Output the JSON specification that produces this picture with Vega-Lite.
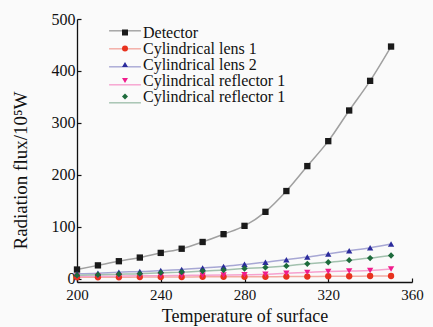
{
  "$schema": "https://vega.github.io/schema/vega-lite/v6.json",
  "width": 335,
  "height": 263,
  "autosize": {"type": "none"},
  "padding": {"left": 77, "top": 19, "right": 21, "bottom": 45},
  "background": "#fafafa",
  "config": {
    "view": {"stroke": null},
    "font": "Liberation Serif, serif",
    "axis": {"grid": false, "domainColor": "#111", "domainWidth": 1.3, "tickColor": "#111", "tickWidth": 1.2, "labelColor": "#111", "titleColor": "#111", "labelFont": "Liberation Serif, serif", "titleFont": "Liberation Serif, serif", "titleFontWeight": "normal", "labelFlush": false}
  },
  "data": {
    "values": [
      {"t":200,"series":"Detector","v":18},{"t":210,"series":"Detector","v":26},{"t":220,"series":"Detector","v":34},{"t":230,"series":"Detector","v":41},{"t":240,"series":"Detector","v":50},{"t":250,"series":"Detector","v":58},{"t":260,"series":"Detector","v":71},{"t":270,"series":"Detector","v":86},{"t":280,"series":"Detector","v":102},{"t":290,"series":"Detector","v":129},{"t":300,"series":"Detector","v":169},{"t":310,"series":"Detector","v":217},{"t":320,"series":"Detector","v":265},{"t":330,"series":"Detector","v":324},{"t":340,"series":"Detector","v":381},{"t":350,"series":"Detector","v":447},
      {"t":200,"series":"Cylindrical lens 1","v":3},{"t":210,"series":"Cylindrical lens 1","v":3},{"t":220,"series":"Cylindrical lens 1","v":3},{"t":230,"series":"Cylindrical lens 1","v":3.5},{"t":240,"series":"Cylindrical lens 1","v":3.5},{"t":250,"series":"Cylindrical lens 1","v":3.5},{"t":260,"series":"Cylindrical lens 1","v":4},{"t":270,"series":"Cylindrical lens 1","v":4},{"t":280,"series":"Cylindrical lens 1","v":4},{"t":290,"series":"Cylindrical lens 1","v":4},{"t":300,"series":"Cylindrical lens 1","v":4.5},{"t":310,"series":"Cylindrical lens 1","v":4.5},{"t":320,"series":"Cylindrical lens 1","v":5},{"t":330,"series":"Cylindrical lens 1","v":5},{"t":340,"series":"Cylindrical lens 1","v":5.5},{"t":350,"series":"Cylindrical lens 1","v":5.5},
      {"t":200,"series":"Cylindrical lens 2","v":10},{"t":210,"series":"Cylindrical lens 2","v":11},{"t":220,"series":"Cylindrical lens 2","v":13},{"t":230,"series":"Cylindrical lens 2","v":14},{"t":240,"series":"Cylindrical lens 2","v":16},{"t":250,"series":"Cylindrical lens 2","v":18},{"t":260,"series":"Cylindrical lens 2","v":21},{"t":270,"series":"Cylindrical lens 2","v":24},{"t":280,"series":"Cylindrical lens 2","v":28},{"t":290,"series":"Cylindrical lens 2","v":32},{"t":300,"series":"Cylindrical lens 2","v":37},{"t":310,"series":"Cylindrical lens 2","v":42},{"t":320,"series":"Cylindrical lens 2","v":48},{"t":330,"series":"Cylindrical lens 2","v":54},{"t":340,"series":"Cylindrical lens 2","v":60},{"t":350,"series":"Cylindrical lens 2","v":67},
      {"t":200,"series":"Cylindrical reflector 1a","v":5},{"t":210,"series":"Cylindrical reflector 1a","v":5},{"t":220,"series":"Cylindrical reflector 1a","v":5.5},{"t":230,"series":"Cylindrical reflector 1a","v":6},{"t":240,"series":"Cylindrical reflector 1a","v":6},{"t":250,"series":"Cylindrical reflector 1a","v":6.5},{"t":260,"series":"Cylindrical reflector 1a","v":7},{"t":270,"series":"Cylindrical reflector 1a","v":7.5},{"t":280,"series":"Cylindrical reflector 1a","v":8},{"t":290,"series":"Cylindrical reflector 1a","v":9},{"t":300,"series":"Cylindrical reflector 1a","v":11},{"t":310,"series":"Cylindrical reflector 1a","v":12.5},{"t":320,"series":"Cylindrical reflector 1a","v":14},{"t":330,"series":"Cylindrical reflector 1a","v":15},{"t":340,"series":"Cylindrical reflector 1a","v":16},{"t":350,"series":"Cylindrical reflector 1a","v":19},
      {"t":200,"series":"Cylindrical reflector 1b","v":7},{"t":210,"series":"Cylindrical reflector 1b","v":8},{"t":220,"series":"Cylindrical reflector 1b","v":9},{"t":230,"series":"Cylindrical reflector 1b","v":10},{"t":240,"series":"Cylindrical reflector 1b","v":12},{"t":250,"series":"Cylindrical reflector 1b","v":13},{"t":260,"series":"Cylindrical reflector 1b","v":15},{"t":270,"series":"Cylindrical reflector 1b","v":17},{"t":280,"series":"Cylindrical reflector 1b","v":20},{"t":290,"series":"Cylindrical reflector 1b","v":22},{"t":300,"series":"Cylindrical reflector 1b","v":25},{"t":310,"series":"Cylindrical reflector 1b","v":29},{"t":320,"series":"Cylindrical reflector 1b","v":32},{"t":330,"series":"Cylindrical reflector 1b","v":36},{"t":340,"series":"Cylindrical reflector 1b","v":40},{"t":350,"series":"Cylindrical reflector 1b","v":45}
    ]
  },
  "encoding": {
    "x": {"field": "t", "type": "quantitative", "scale": {"domain": [200, 360], "nice": false, "zero": false},
      "axis": {"values": [200, 240, 280, 320, 360], "tickSize": -4, "labelFontSize": 15, "labelPadding": 9, "labelFlush": false, "title": "Temperature of surface", "titleFontSize": 18, "titlePadding": 5}},
    "y": {"field": "v", "type": "quantitative", "scale": {"domain": [-6, 500], "nice": false, "zero": false},
      "axis": {"values": [0, 100, 200, 300, 400, 500], "tickSize": -4, "labelFontSize": 16, "labelPadding": 6, "labelFlush": false, "title": "Radiation flux/10⁵W", "titleFontSize": 19, "titleX": -57, "titleY": 151, "titleAngle": -90, "titleBaseline": "middle", "titleAlign": "center"}}
  },
  "layer": [
    {"mark": {"type": "line", "interpolate": "monotone", "strokeWidth": 1.5},
     "encoding": {"stroke": {"field": "series", "type": "nominal",
       "scale": {"domain": ["Cylindrical reflector 1b", "Cylindrical reflector 1a", "Cylindrical lens 2", "Cylindrical lens 1", "Detector"], "range": ["#a2c1ae", "#f6a1ce", "#a7a7d4", "#f3aaa2", "#a0a0a0"]},
       "legend": {"title": null, "orient": "none", "legendX": 40, "legendY": 3.8, "padding": 0,
         "values": ["Detector", "Cylindrical lens 1", "Cylindrical lens 2", "Cylindrical reflector 1a", "Cylindrical reflector 1b"],
         "symbolType": "M0,-2.3M0,2.3M-5.3,0H5.3", "symbolSize": 36, "symbolStrokeWidth": 1.4, "symbolOffset": 0, "labelOffset": 10, "rowPadding": -4.8,
         "labelFont": "Liberation Serif, serif", "labelFontSize": 16, "labelColor": "transparent", "labelExpr": "''"}}}},
    {"mark": {"type": "point", "filled": true, "opacity": 1, "size": 40},
     "encoding": {
       "color": {"field": "series", "type": "nominal",
         "scale": {"domain": ["Detector", "Cylindrical lens 1", "Cylindrical lens 2", "Cylindrical reflector 1a", "Cylindrical reflector 1b"], "range": ["#1a1a1a", "#e8321e", "#2b2b9c", "#f01c8c", "#1e6b3c"]},
         "legend": {"title": null, "orient": "none", "legendX": 40, "legendY": 5.5, "padding": 0,
           "symbolSize": 36, "symbolStrokeWidth": 1.4, "symbolOffset": 0, "labelOffset": 10, "rowPadding": -3,
           "labelFont": "Liberation Serif, serif", "labelFontSize": 16, "labelColor": "#111",
           "labelExpr": "replace(datum.label, /1[ab]$/, '1')"}},
       "shape": {"field": "series", "type": "nominal",
         "scale": {"domain": ["Detector", "Cylindrical lens 1", "Cylindrical lens 2", "Cylindrical reflector 1a", "Cylindrical reflector 1b"], "range": ["square", "circle", "triangle-up", "triangle-down", "diamond"]},
         "legend": null}}}
  ]
}
